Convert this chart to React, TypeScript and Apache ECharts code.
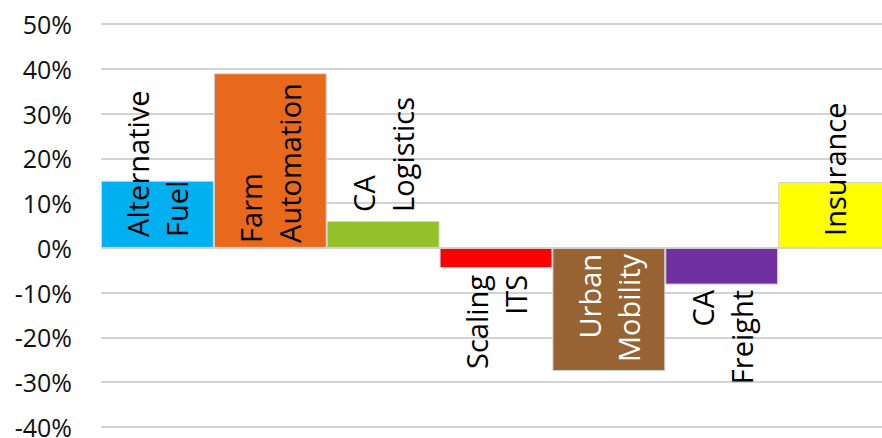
import React, { useEffect, useRef } from "react";
import * as echarts from "echarts";

const categories = ["Alternative Fuel", "Farm Automation", "CA Logistics", "Scaling ITS", "Urban Mobility", "CA Freight", "Insurance"];
const labelTexts = ["Alternative\nFuel", "Farm\nAutomation", "CA\nLogistics", "Scaling\nITS", "Urban\nMobility", "CA\nFreight", "Insurance"];
const values = [15, 39, 6, -4.5, -27.5, -8.2, 14.7];
const barColors = ["#00B0F0", "#E8681C", "#92C12A", "#FF0000", "#976332", "#7030A0", "#FFFF00"];
const labelColors = ["#000", "#000", "#000", "#000", "#fff", "#000", "#000"];
const labelDistances = [11, 5, 36, 27, 6, 42, 12];
const yTicks = { min: -40, max: 50, interval: 10 };

export default function App() {
  const ref = useRef<HTMLDivElement>(null);
  useEffect(() => {
    document.body.style.margin = "0";
    const chart = echarts.init(ref.current!, null, { renderer: "svg" });
    const data = values.map((v, i) => ({
      value: v,
      itemStyle: { color: barColors[i] },
      label: {
        show: true,
        formatter: labelTexts[i],
        rotate: 90,
        position: v >= 0 ? "insideBottom" : "insideTop",
        align: v >= 0 ? "left" : "right",
        verticalAlign: "middle",
        distance: labelDistances[i],
        color: labelColors[i],
        fontFamily: "Open Sans",
        fontSize: 29,
        lineHeight: 39,
      },
    }));
    chart.setOption({
      animation: false,
      grid: { left: 101, top: 24, height: 403, width: 790, outerBoundsMode: "none", containLabel: false },
      xAxis: {
        type: "category",
        data: categories,
        axisLine: { show: false },
        axisTick: { show: false },
        axisLabel: { show: false },
      },
      yAxis: {
        type: "value",
        min: yTicks.min,
        max: yTicks.max,
        interval: yTicks.interval,
        axisLine: { show: false },
        axisTick: { show: false },
        axisLabel: {
          formatter: "{value}%",
          fontFamily: "Open Sans",
          fontSize: 25,
          color: "#111",
          margin: 29,
        },
        splitLine: { lineStyle: { color: "#C4C4C4", width: 1.5 } },
      },
      series: [
        {
          type: "bar",
          data,
          barCategoryGap: "0%",
          itemStyle: { borderColor: "#D4D4D4", borderWidth: 1 },
        },
      ],
    });
    return () => chart.dispose();
  }, []);
  return <div ref={ref} style={{ width: 882, height: 438 }} />;
}
